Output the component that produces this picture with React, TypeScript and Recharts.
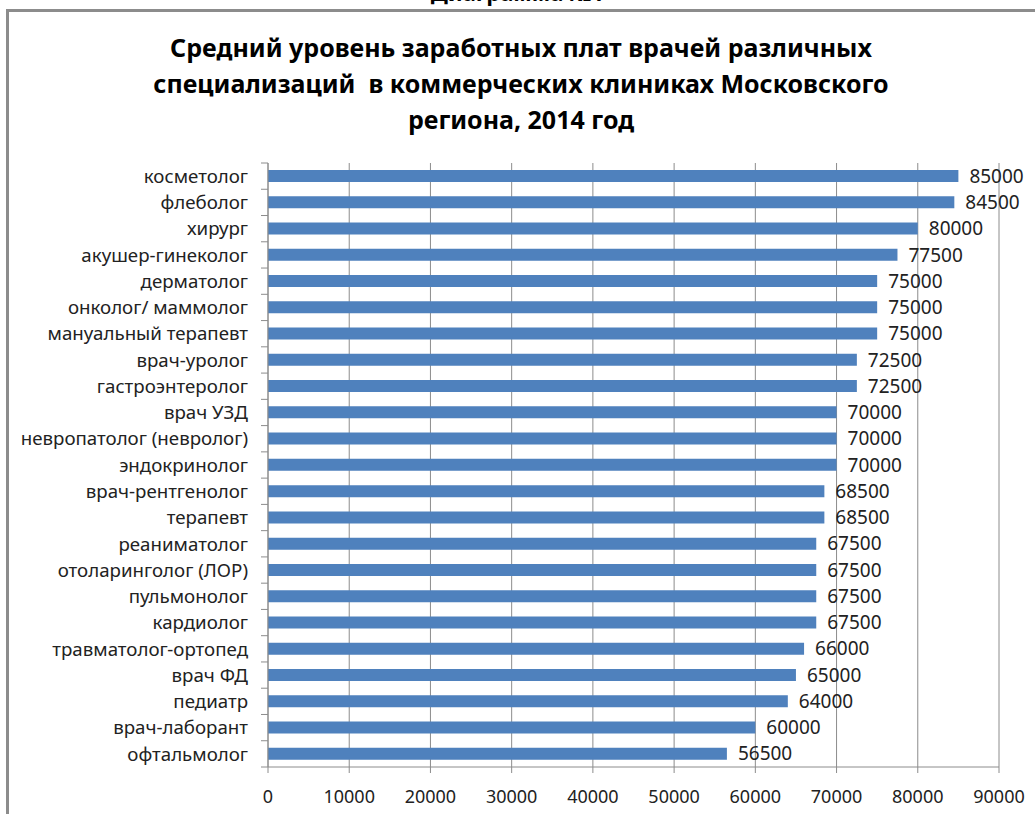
import { BarChart, Bar, XAxis, YAxis, CartesianGrid, LabelList } from "recharts";

const specialties = [
  "косметолог",
  "флеболог",
  "хирург",
  "акушер-гинеколог",
  "дерматолог",
  "онколог/ маммолог",
  "мануальный терапевт",
  "врач-уролог",
  "гастроэнтеролог",
  "врач УЗД",
  "невропатолог (невролог)",
  "эндокринолог",
  "врач-рентгенолог",
  "терапевт",
  "реаниматолог",
  "отоларинголог (ЛОР)",
  "пульмонолог",
  "кардиолог",
  "травматолог-ортопед",
  "врач ФД",
  "педиатр",
  "врач-лаборант",
  "офтальмолог",
];

const salaries = [
  85000, 84500, 80000, 77500, 75000, 75000, 75000, 72500, 72500, 70000, 70000,
  70000, 68500, 68500, 67500, 67500, 67500, 67500, 66000, 65000, 64000, 60000,
  56500,
];

const xTicks = [0, 10000, 20000, 30000, 40000, 50000, 60000, 70000, 80000, 90000];

const titleLines = [
  "Средний уровень заработных плат врачей различных",
  "специализаций  в коммерческих клиниках Московского",
  "региона, 2014 год",
];

const data = specialties.map((name, i) => ({ name, value: salaries[i] }));

const FONT = "'Noto Sans', 'Open Sans', sans-serif";
const GRID = "#8c8c8c";
const PLOT_TOP = 163;
const PLOT_BOTTOM = 767;
const BAND = (PLOT_BOTTOM - PLOT_TOP) / specialties.length;

// category label + tick mark on the band boundary (Excel style)
const CategoryTick = (props: any) => {
  const { x, y, payload, index } = props;
  const last = index === specialties.length - 1;
  return (
    <g>
      <line x1={x - 7} x2={x} y1={y - BAND / 2} y2={y - BAND / 2} stroke={GRID} />
      {last && (
        <line x1={x - 7} x2={x} y1={y + BAND / 2} y2={y + BAND / 2} stroke={GRID} />
      )}
      <text
        x={x - 20}
        y={y}
        dy="0.36em"
        textAnchor="end"
        fill="#222"
        fontSize={18.7}
        fontFamily={FONT}
      >
        {payload.value}
      </text>
    </g>
  );
};

export default function App() {
  return (
    <div
      style={{
        position: "absolute",
        left: 0,
        top: 0,
        width: 1035,
        height: 814,
        background: "#fff",
        overflow: "hidden",
        fontFamily: FONT,
      }}
    >
      {/* chart frame */}
      <div
        style={{
          position: "absolute",
          left: 6,
          top: 9,
          width: 1040,
          height: 820,
          borderLeft: "3px solid #8c8c8c",
          borderTop: "3px solid #8c8c8c",
        }}
      />
      <div
        style={{
          position: "absolute",
          left: 0,
          width: 1035,
          top: -23,
          textAlign: "center",
          fontWeight: 700,
          fontSize: 22,
          lineHeight: "30px",
          color: "#000",
        }}
      >
        Диаграмма №1
      </div>
      <div
        style={{
          position: "absolute",
          left: 0,
          width: 1042,
          top: 29,
          textAlign: "center",
          fontWeight: 700,
          fontSize: 25,
          lineHeight: "36px",
          color: "#000",
        }}
      >
        {titleLines.map((l) => (
          <div key={l} style={{ whiteSpace: "pre" }}>
            {l}
          </div>
        ))}
      </div>
      <div style={{ position: "absolute", left: 0, top: 0 }}>
        <BarChart
          width={1035}
          height={814}
          data={data}
          layout="vertical"
          margin={{ top: PLOT_TOP, right: 36, bottom: 0, left: 8 }}
          barCategoryGap={0}
        >
          <CartesianGrid horizontal={false} vertical stroke={GRID} />
          <XAxis
            type="number"
            domain={[0, 90000]}
            ticks={xTicks}
            interval={0}
            height={814 - PLOT_BOTTOM}
            stroke={GRID}
            tickSize={6}
            tickMargin={17}
            tick={{ fill: "#222", fontSize: 18, fontFamily: FONT }}
          />
          <YAxis
            type="category"
            dataKey="name"
            width={260}
            stroke={GRID}
            tickLine={false}
            tickSize={0}
            tickMargin={0}
            interval={0}
            tick={<CategoryTick />}
          />
          <Bar dataKey="value" fill="#4f81bd" barSize={12} isAnimationActive={false}>
            <LabelList
              dataKey="value"
              position="right"
              offset={11}
              fill="#222"
              fontSize={19}
              fontFamily={FONT}
            />
          </Bar>
        </BarChart>
      </div>
    </div>
  );
}
